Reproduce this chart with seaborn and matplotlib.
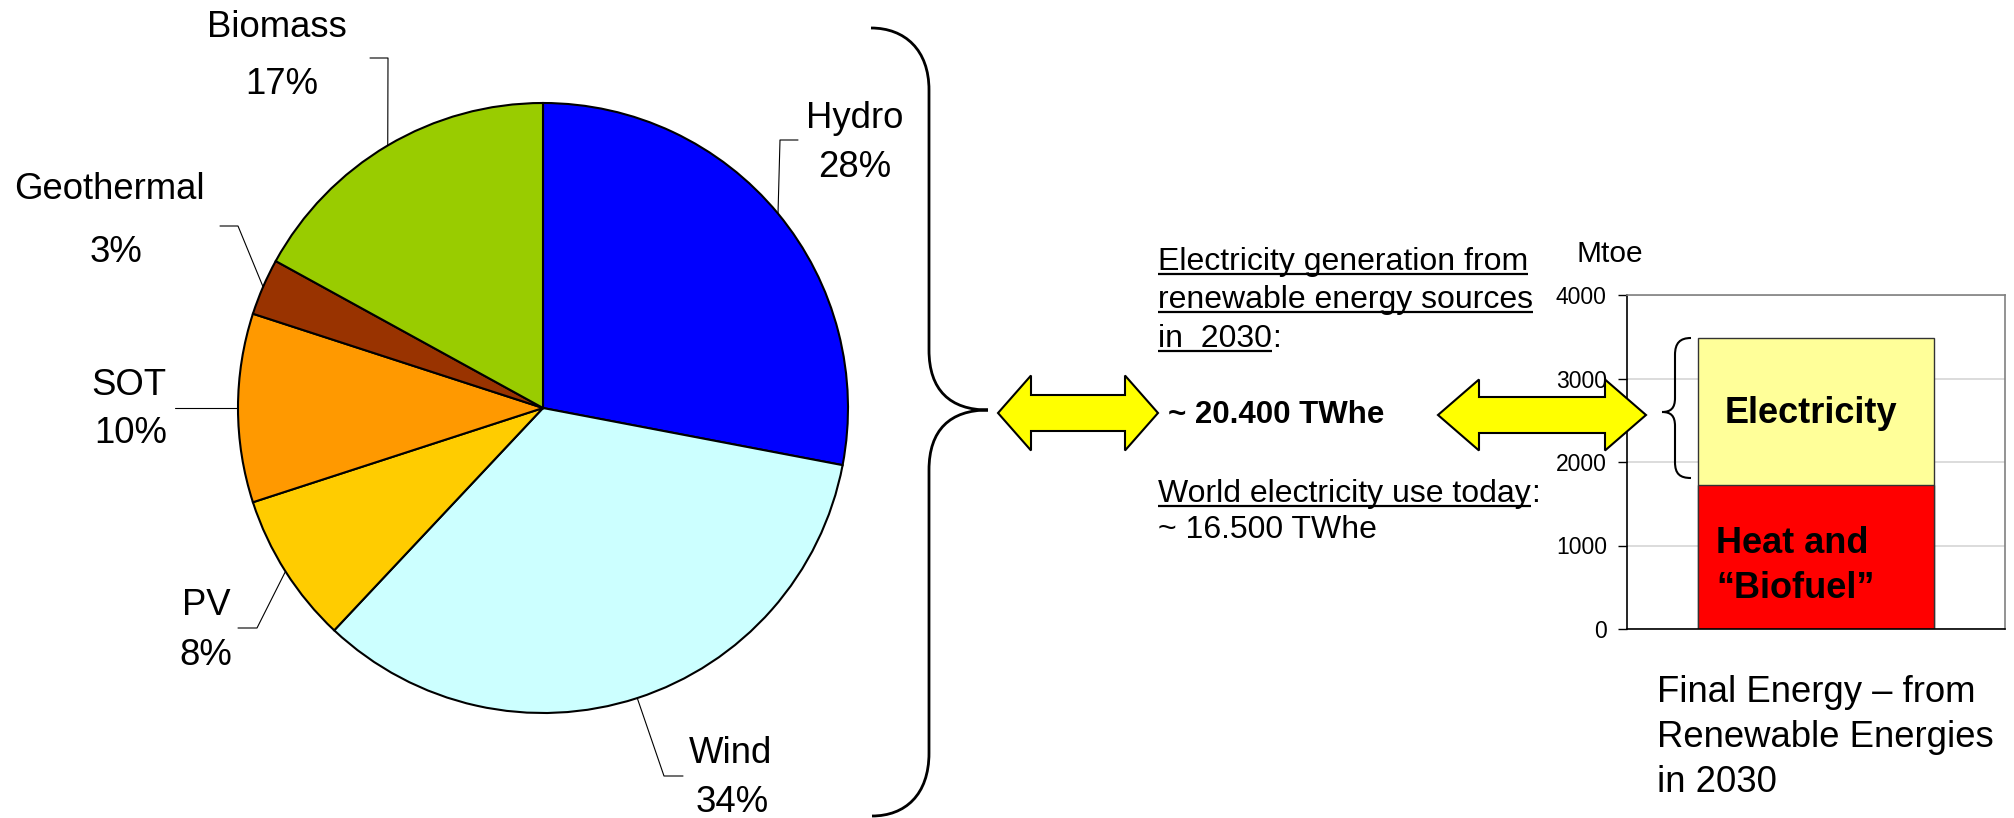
import numpy as np
import seaborn as sns
import matplotlib
matplotlib.use("Agg")
import matplotlib.pyplot as plt
from matplotlib.patches import Polygon, PathPatch
from matplotlib.path import Path

# electricity generation from renewables in 2030, share in %
sources = ["Hydro", "Wind", "PV", "SOT", "Geothermal", "Biomass"]
shares = [28, 34, 8, 10, 3, 17]
pie_colors = ["#0000FF", "#CCFFFF", "#FFCC00", "#FF9900", "#993300", "#99CC00"]

# final energy from renewables in 2030, Mtoe (stacked bar)
bar_category = ["2030"]
heat_biofuel = [1720]
electricity = [1760]
yticks = [0, 1000, 2000, 3000, 4000]

W, H = 2015, 818
sns.set_theme(style="white")
plt.rcParams["font.family"] = ["Liberation Sans", "DejaVu Sans"]

fig = plt.figure(figsize=(W / 100, H / 100), dpi=100)


def px_box(x0, y0, x1, y1):
    # figure-fraction box from pixel corners (origin top left)
    return [x0 / W, 1 - y1 / H, (x1 - x0) / W, (y1 - y0) / H]


# ---- pie ----
cx, cy, r = 543, 408, 305
pax = fig.add_axes(px_box(cx - r, cy - r, cx + r, cy + r))
wedges, _ = pax.pie(shares, colors=pie_colors, startangle=90, counterclock=False,
                    wedgeprops=dict(edgecolor="black", linewidth=1.5))
pax.set_xlim(-1, 1)
pax.set_ylim(-1, 1)

# leader elbow, leader end, name baseline, pct baseline (pixels)
label_layout = {
    "Hydro": ((780, 140), (798, 140), (855, 128), (855, 177)),
    "Wind": ((664, 776), (683, 776), (731, 763), (732, 812)),
    "PV": ((257, 628), (238, 628), (206, 615), (206, 665)),
    "SOT": ((190, 408), (175, 408), (129, 395), (131, 443)),
    "Geothermal": ((238, 226), (220, 226), (109, 199), (116, 262)),
    "Biomass": ((388, 58), (370, 58), (277, 37), (282, 94)),
}


def to_pie(p):
    return ((p[0] - cx) / r, (cy - p[1]) / r)


# ---- bar ----
bx = fig.add_axes(px_box(1627, 295, 2005, 629))
totals = [h + e for h, e in zip(heat_biofuel, electricity)]
sns.barplot(x=bar_category, y=totals, color="#FFFF99", saturation=1, width=0.624,
            edgecolor="#333333", linewidth=1, ax=bx)
sns.barplot(x=bar_category, y=heat_biofuel, color="#FF0000", saturation=1, width=0.624,
            edgecolor="#333333", linewidth=1, ax=bx)
bx.set_xlim(-0.5, 0.5)
bx.set_ylim(0, 4000)
bx.set_yticks(yticks)
bx.set_xticks([])
bx.set_xlabel("")
bx.set_ylabel("")
bx.tick_params(axis="y", left=True, length=6.5, width=1, color="black",
               labelsize=16.5, pad=8, labelcolor="black")
bx.yaxis.grid(True, color="#D9D9D9", linewidth=1.3)
bx.set_axisbelow(True)
for side in ["left", "bottom"]:
    bx.spines[side].set_color("black")
    bx.spines[side].set_linewidth(1.2)
for side in ["top", "right"]:
    bx.spines[side].set_color("#808080")
    bx.spines[side].set_linewidth(1.2)
    bx.spines[side].set_visible(True)

# ---- overlay in pixel coordinates ----
ov = fig.add_axes([0, 0, 1, 1])
ov.set_xlim(0, W)
ov.set_ylim(H, 0)
ov.axis("off")
ov.patch.set_alpha(0)

for w, name, share in zip(wedges, sources, shares):
    ang = np.deg2rad((w.theta1 + w.theta2) / 2)
    elbow, end, npos, ppos = label_layout[name]
    pts = [(np.cos(ang), np.sin(ang)), to_pie(elbow), to_pie(end)]
    pax.plot(*zip(*pts), color="black", lw=0.8, clip_on=False)
    ov.text(npos[0], npos[1], name, ha="center", va="baseline", fontsize=26.3, color="black")
    ov.text(ppos[0], ppos[1], f"{share}%", ha="center", va="baseline", fontsize=26.3, color="black")


def brace(verts, lw):
    codes = [Path.MOVETO, Path.CURVE4, Path.CURVE4, Path.CURVE4, Path.LINETO,
             Path.CURVE4, Path.CURVE4, Path.CURVE4, Path.CURVE4, Path.CURVE4, Path.CURVE4,
             Path.LINETO, Path.CURVE4, Path.CURVE4, Path.CURVE4]
    ov.add_patch(PathPatch(Path(verts, codes), fill=False, edgecolor="black", lw=lw))


brace([(871, 28), (905, 28), (929, 50), (929, 90), (929, 350),
       (929, 390), (950, 410), (988, 410), (950, 410), (929, 430), (929, 470),
       (929, 753), (929, 795), (905, 816), (872, 816)], 2.0)
brace([(1691, 338), (1680, 338), (1675, 343), (1675, 355), (1675, 398),
       (1675, 408), (1671, 412), (1662, 412), (1671, 412), (1675, 416), (1675, 426),
       (1675, 462), (1675, 474), (1680, 478), (1691, 478)], 1.5)


def double_arrow(x0, x1, yc, head, hh, hs):
    pts = [(x0, yc), (x0 + head, yc - hh), (x0 + head, yc - hs), (x1 - head, yc - hs),
           (x1 - head, yc - hh), (x1, yc), (x1 - head, yc + hh), (x1 - head, yc + hs),
           (x0 + head, yc + hs), (x0 + head, yc + hh)]
    ov.add_patch(Polygon(pts, closed=True, facecolor="#FFFF00", edgecolor="black", lw=1.5, zorder=5))


double_arrow(998, 1158, 413, 33, 37.5, 18)
double_arrow(1438, 1646, 415, 41, 35.5, 18)

# middle text
mid_fs = 23
underlined = [
    ("Electricity generation from", "", 270),
    ("renewable energy sources", "", 308),
    ("in  2030", ":", 347),
    ("World electricity use today", ":", 502),
]
ul_texts = []
for txt, tail, yb in underlined:
    t = ov.text(1158, yb, txt, ha="left", va="baseline", fontsize=mid_fs, color="black")
    ul_texts.append((t, tail, yb))
ov.text(1168, 423, "~ 20.400 TWhe", ha="left", va="baseline", fontsize=22.5,
        fontweight="bold", color="black")
ov.text(1158, 538, "~ 16.500 TWhe", ha="left", va="baseline", fontsize=mid_fs, color="black")

# bar labels and caption
ov.text(1610, 262, "Mtoe", ha="center", va="baseline", fontsize=21.5, color="black")
ov.text(1811, 423, "Electricity", ha="center", va="baseline", fontsize=26,
        fontweight="bold", color="black", zorder=6)
ov.text(1716, 553, "Heat and", ha="left", va="baseline", fontsize=26,
        fontweight="bold", color="black", zorder=6)
ov.text(1716, 598, "\u201cBiofuel\u201d", ha="left", va="baseline", fontsize=26,
        fontweight="bold", color="black", zorder=6)
for line, yb in zip(["Final Energy \u2013 from", "Renewable Energies", "in 2030"], [702, 747, 792]):
    ov.text(1657, yb, line, ha="left", va="baseline", fontsize=26.3, color="black")

# underlines need the rendered text widths
fig.canvas.draw()
renderer = fig.canvas.get_renderer()
for t, tail, yb in ul_texts:
    bb = t.get_window_extent(renderer)
    ov.plot([bb.x0, bb.x1], [yb + 4, yb + 4], color="black", lw=1.6, solid_capstyle="butt")
    if tail:
        ov.text(bb.x1, yb, tail, ha="left", va="baseline", fontsize=mid_fs, color="black")

fig.savefig("out.png", dpi=100)
